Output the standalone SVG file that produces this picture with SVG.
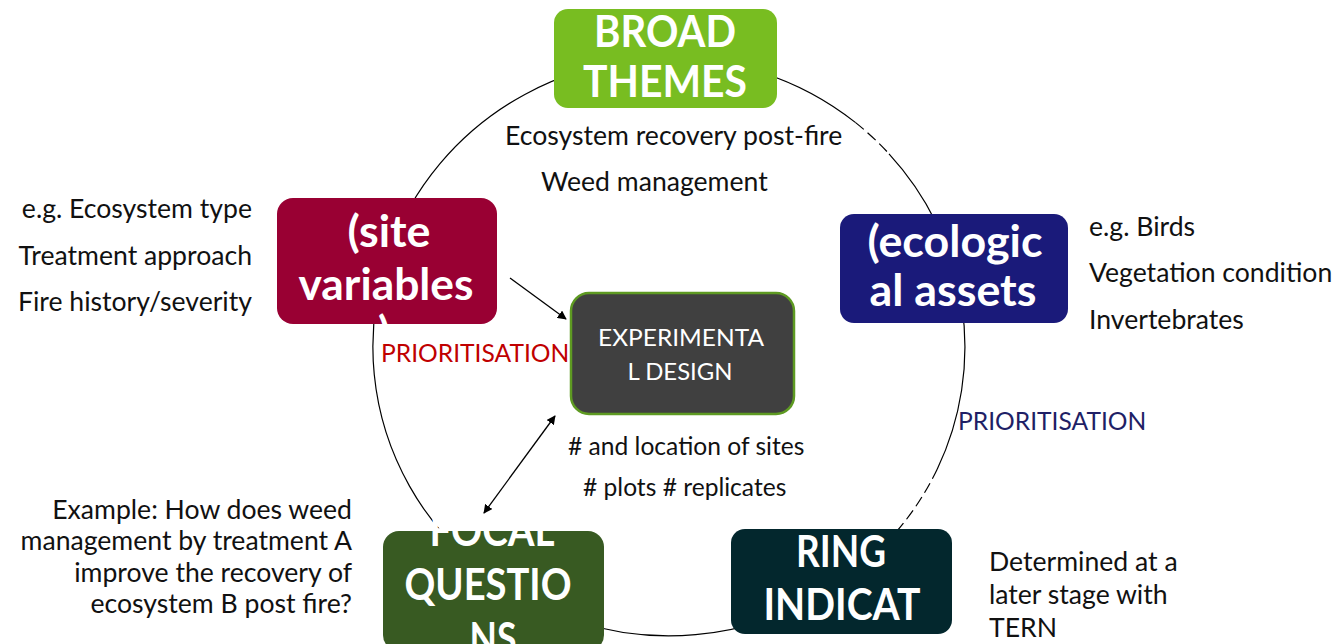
<svg xmlns="http://www.w3.org/2000/svg" width="1339" height="644" viewBox="0 0 1339 644">
  <defs>
    <marker id="arrow" viewBox="0 0 10 10" refX="9" refY="5" markerWidth="9" markerHeight="9" orient="auto-start-reverse" markerUnits="userSpaceOnUse">
      <path d="M0,0 L10,5 L0,10 z" fill="#000"/>
    </marker>
    <style>
      .ring { fill: none; stroke: #000; stroke-width: 1.2; }
      .dash { stroke-dasharray: 11 5; }
      .title { font-family: Lato, "Liberation Sans", sans-serif; font-weight: bold; font-size: 44px; fill: #fff; text-anchor: middle; }
      .inner { font-family: Lato, "Liberation Sans", sans-serif; font-size: 24px; fill: #fff; text-anchor: middle; }
      .note { font-family: Lato, "Liberation Sans", sans-serif; font-size: 26.6px; fill: #111; }
      .mid { font-size: 24.6px; }
      .end { text-anchor: end; }
      .prio { font-family: Lato, "Liberation Sans", sans-serif; font-size: 24.6px; }
      .conn { stroke: #000; stroke-width: 1.3; fill: none; }
    </style>
  </defs>
  <rect width="1339" height="644" fill="#fff"/>

  <!-- cycle ellipse, partly dashed -->
  <g id="cycle">
    <path class="ring" d="M 889.0 153.8 A 296 289 0 0 1 937.3 469.0"/>
    <path class="ring dash" d="M 937.3 469.0 A 296 289 0 0 1 895.7 532.6"/>
    <path class="ring" d="M 895.7 532.6 A 296 289 0 1 1 855.3 122.4"/>
    <path class="ring dash" d="M 855.3 122.4 A 296 289 0 0 1 889.0 153.8"/>
  </g>

  <g id="connectors">
    <line class="conn" x1="510" y1="278" x2="566" y2="319" marker-end="url(#arrow)"/>
    <line class="conn" x1="484" y1="513" x2="555" y2="416" marker-start="url(#arrow)" marker-end="url(#arrow)"/>
  </g>

  <g id="broad-themes">
    <rect x="554" y="9" width="223" height="99" rx="14" fill="#78BD21"/>
    <text class="title" x="665" y="47" textLength="142" lengthAdjust="spacingAndGlyphs">BROAD</text>
    <text class="title" x="665" y="97" textLength="164" lengthAdjust="spacingAndGlyphs">THEMES</text>
    <text class="note" x="505" y="145">Ecosystem recovery post-fire</text>
    <text class="note" x="541" y="191">Weed management</text>
  </g>

  <g id="site-variables">
    <rect x="277" y="198" width="220" height="126" rx="16" fill="#990033"/>
    <text class="title" x="389" y="247" textLength="83" lengthAdjust="spacingAndGlyphs">(site</text>
    <text class="title" x="386" y="300" textLength="175" lengthAdjust="spacingAndGlyphs">variables</text>
    <text class="title" x="384" y="348">)</text>
    <text class="note end" x="252" y="218">e.g. Ecosystem type</text>
    <text class="note end" x="252" y="265">Treatment approach</text>
    <text class="note end" x="252" y="311">Fire history/severity</text>
    <text class="prio" x="381" y="362" fill="#C00000">PRIORITISATION</text>
  </g>

  <g id="ecological-assets">
    <rect x="840" y="214" width="228" height="109" rx="14" fill="#1A1A7A"/>
    <text class="title" x="955" y="257" textLength="175" lengthAdjust="spacingAndGlyphs">(ecologic</text>
    <text class="title" x="953" y="306" textLength="167" lengthAdjust="spacingAndGlyphs">al assets</text>
    <text class="note" x="1089" y="236">e.g. Birds</text>
    <text class="note" x="1089" y="282">Vegetation condition</text>
    <text class="note" x="1089" y="329">Invertebrates</text>
    <text class="prio" x="958" y="430" fill="#1F1F66">PRIORITISATION</text>
  </g>

  <g id="experimental-design">
    <rect x="571" y="293" width="223" height="121" rx="18" fill="#404040" stroke="#5E9A22" stroke-width="2.5"/>
    <text class="inner" x="681" y="346" textLength="166" lengthAdjust="spacingAndGlyphs">EXPERIMENTA</text>
    <text class="inner" x="680" y="380" textLength="105" lengthAdjust="spacingAndGlyphs">L DESIGN</text>
    <text class="note mid" x="568" y="455">#  and location of sites</text>
    <text class="note mid" x="583" y="496">#  plots  # replicates</text>
  </g>

  <g id="focal-questions">
    <rect x="383" y="531" width="221" height="120" rx="16" fill="#385A22"/>
    <text class="title" x="492" y="546" textLength="125" lengthAdjust="spacingAndGlyphs">FOCAL</text>
    <text class="title" x="488" y="600" textLength="167" lengthAdjust="spacingAndGlyphs">QUESTIO</text>
    <text class="title" x="493" y="654" textLength="47" lengthAdjust="spacingAndGlyphs">NS</text>
    <text class="note end" x="352" y="519">Example: How does weed</text>
    <text class="note end" x="352" y="550">management by treatment A</text>
    <text class="note end" x="352" y="582">improve the recovery of</text>
    <text class="note end" x="352" y="613">ecosystem B post fire?</text>
  </g>

  <g id="monitoring-indicators">
    <rect x="731" y="529" width="221" height="105" rx="14" fill="#03272D"/>
    <text class="title" x="841" y="567" textLength="90" lengthAdjust="spacingAndGlyphs">RING</text>
    <text class="title" x="842" y="620" textLength="157" lengthAdjust="spacingAndGlyphs">INDICAT</text>
    <text class="note" x="989" y="571">Determined at a</text>
    <text class="note" x="989" y="604">later stage with</text>
    <text class="note" x="989" y="637">TERN</text>
  </g>
</svg>
